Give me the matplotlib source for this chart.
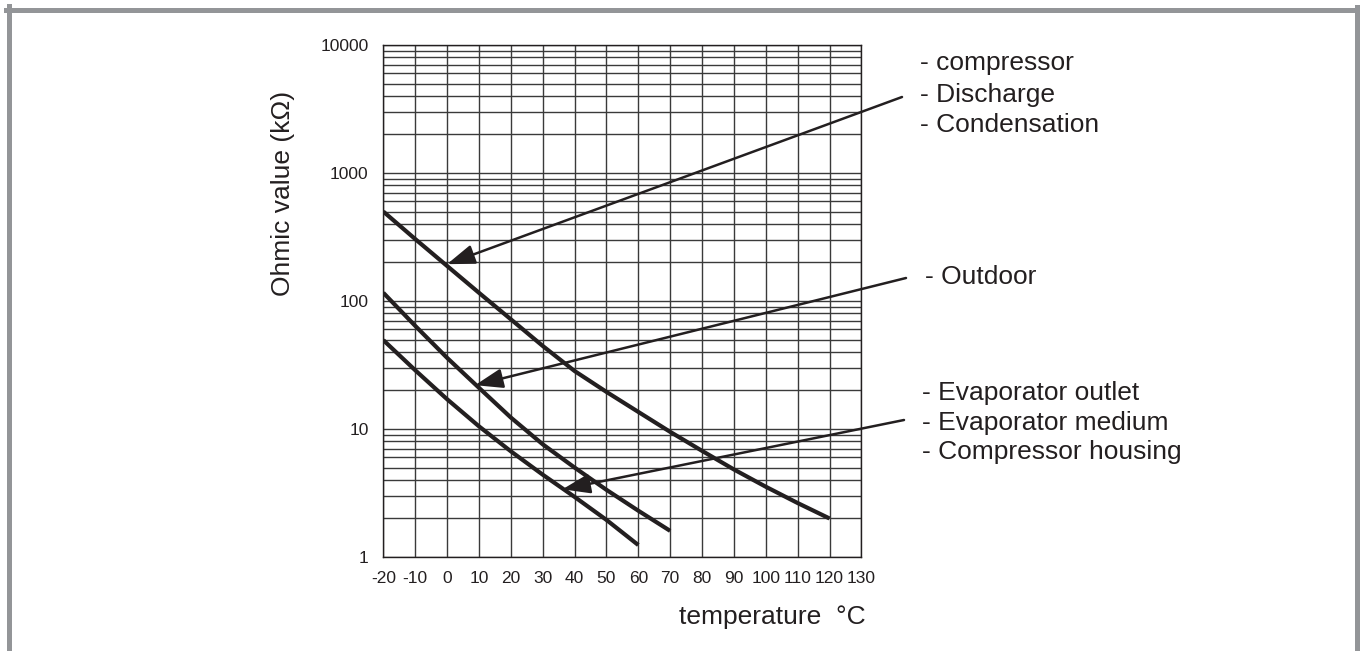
import matplotlib
matplotlib.use("Agg")
import matplotlib.pyplot as plt
from matplotlib.lines import Line2D
from matplotlib.ticker import FixedLocator, LogLocator, NullFormatter

plt.rcParams['font.family'] = ['Liberation Sans', 'DejaVu Sans']

# ---- data ----
temps_a = [-20, -10, 0, 10, 20, 30, 40, 50, 60, 70, 80, 90, 100, 110, 120]
res_a = [500, 305, 188, 116, 72, 44.6, 28.4, 19.5, 13.6, 9.5, 6.75, 4.83, 3.54, 2.64, 2.0]

temps_b = [-20, -10, 0, 10, 20, 30, 40, 50, 60, 70]
res_b = [116, 64, 36, 21, 12.3, 7.6, 5.0, 3.35, 2.3, 1.6]

temps_c = [-20, -10, 0, 10, 20, 30, 40, 50, 60]
res_c = [49.5, 28.8, 17.1, 10.5, 6.7, 4.4, 2.95, 1.95, 1.24]

x_ticks = [-20, -10, 0, 10, 20, 30, 40, 50, 60, 70, 80, 90, 100, 110, 120, 130]
y_ticks = [1, 10, 100, 1000, 10000]
y_tick_labels = ['1', '10', '100', '1000', '10000']

labels_a = ['- compressor', '- Discharge', '- Condensation']
labels_b = ['- Outdoor']
labels_c = ['- Evaporator outlet', '- Evaporator medium', '- Compressor housing']

# arrow tips (data coords)
tip_a = (0.0, 194)
tip_b = (8.8, 22)
tip_c = (36.2, 3.38)

W, H = 1360, 651
AX_L, AX_R, AX_T, AX_B = 383.3, 861.4, 45, 557
fig = plt.figure(figsize=(W / 100, H / 100), dpi=100)
ax = fig.add_axes([AX_L / W, (H - AX_B) / H, (AX_R - AX_L) / W, (AX_B - AX_T) / H])

ax.set_yscale('log')
ax.set_xlim(-20, 130)
ax.set_ylim(1, 10000)

ax.xaxis.set_major_locator(FixedLocator(x_ticks))
ax.set_xticklabels([str(t) for t in x_ticks])
ax.yaxis.set_major_locator(FixedLocator(y_ticks))
ax.set_yticklabels(y_tick_labels)
ax.yaxis.set_minor_locator(LogLocator(base=10, subs=range(2, 10)))
ax.yaxis.set_minor_formatter(NullFormatter())
ax.tick_params(which='both', length=0, labelsize=12.5, colors='#231f20')
ax.tick_params(axis='x', pad=10)
ax.tick_params(axis='y', pad=10.5)

grid_col = '#3a3a3a'
ax.grid(True, which='major', axis='both', color=grid_col, lw=1.0)
ax.grid(True, which='minor', axis='y', color=grid_col, lw=1.0)
for s in ax.spines.values():
    s.set_color('#231f20')
    s.set_linewidth(1.0)

curve_col = '#231f20'
for tx, rv in [(temps_a, res_a), (temps_b, res_b), (temps_c, res_c)]:
    ax.plot(tx, rv, color=curve_col, lw=3.0, solid_capstyle='butt',
            solid_joinstyle='round', zorder=3)

ax_w = AX_R - AX_L
ax_h = AX_B - AX_T
ax.set_ylabel('Ohmic value (kΩ)', fontsize=19, color='#231f20')
ax.yaxis.set_label_coords((282.7 - AX_L) / ax_w, (AX_B - 193) / ax_h)
ax.yaxis.label.set_va('center')
ax.set_xlabel('temperature  °C', fontsize=19, color='#231f20')
ax.xaxis.set_label_coords((772 - AX_L) / ax_w, (AX_B - 617) / ax_h)
ax.xaxis.label.set_va('center')

aprops = dict(arrowstyle='-|>,head_length=0.85,head_width=0.3', mutation_scale=20,
              lw=1.8, color='#231f20', shrinkA=0, shrinkB=0)
for tip, start in [(tip_a, (902, H - 97)), (tip_b, (906, H - 278)), (tip_c, (904, H - 420))]:
    ax.annotate('', xy=tip, xycoords='data', xytext=start, textcoords='figure pixels',
                arrowprops=aprops, annotation_clip=False)

def put_labels(lines, x, ys):
    for t, y in zip(lines, ys):
        fig.text(x / W, (H - y) / H, t, fontsize=19, color='#231f20', va='center', ha='left')

put_labels(labels_a, 920, [63, 95, 125])
put_labels(labels_b, 925, [277])
put_labels(labels_c, 922, [393, 423, 452])

# gray frame (left, top, right)
fc = '#939598'
lw_f = 5 * 72 / 100
fig.add_artist(Line2D([8.5 / W, 8.5 / W], [0, (H - 6) / H], transform=fig.transFigure, color=fc, lw=lw_f))
fig.add_artist(Line2D([6 / W, 1359 / W], [(H - 9.5) / H, (H - 9.5) / H], transform=fig.transFigure, color=fc, lw=lw_f))
fig.add_artist(Line2D([1356.5 / W, 1356.5 / W], [0, (H - 7) / H], transform=fig.transFigure, color=fc, lw=lw_f))

fig.savefig('out.png', dpi=100)
